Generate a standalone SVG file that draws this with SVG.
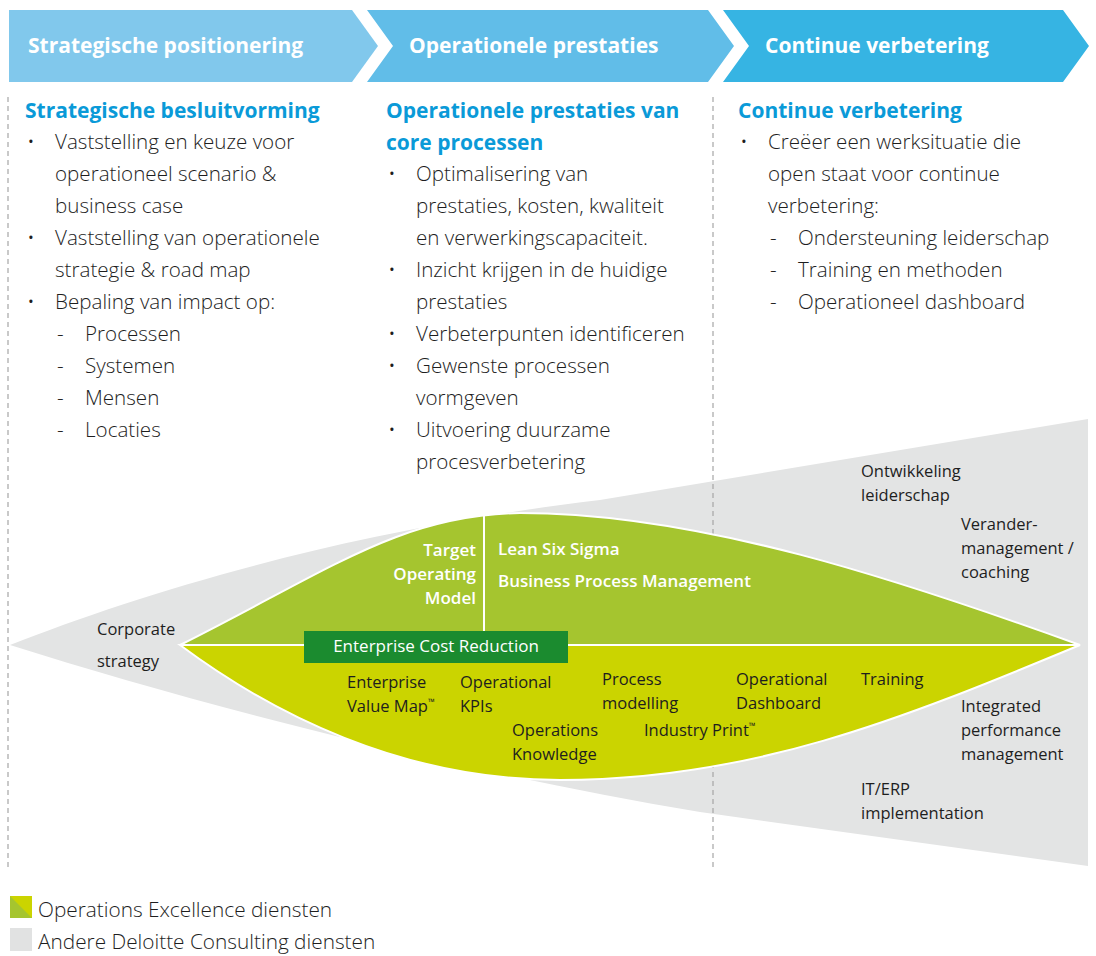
<svg xmlns="http://www.w3.org/2000/svg" width="1096" height="956" viewBox="0 0 1096 956">
<style>
.hd{font-family:"Open Sans","Noto Sans",sans-serif;font-weight:700;font-size:21px;fill:#ffffff}
.h2{font-family:"Open Sans","Noto Sans",sans-serif;font-weight:700;font-size:21px;fill:#0a9ad8}
.bt{font-family:"Open Sans","Noto Sans",sans-serif;font-weight:300;font-size:20.6px;fill:#1e1e1e}
.lb{font-family:"Open Sans","Noto Sans",sans-serif;font-weight:400;font-size:16.5px;fill:#1e1e1e}
.lw{font-family:"Open Sans","Noto Sans",sans-serif;font-weight:600;font-size:17px;fill:#ffffff}
.lg{font-family:"Open Sans","Noto Sans",sans-serif;font-weight:300;font-size:20.8px;fill:#1e1e1e}
.tm{font-size:9px}
.dash{stroke:#a6a6a6;stroke-width:1.2;stroke-dasharray:5 4;fill:none}
</style>
<rect width="1096" height="956" fill="#ffffff"/>
<g id="header">
<polygon points="9,10 352,10 378,46 352,82 9,82" fill="#81c8ec"/>
<polygon points="367,10 708,10 734,46 708,82 367,82 393,46" fill="#61bde8"/>
<polygon points="723,10 1063,10 1089,46 1063,82 723,82 749,46" fill="#36b4e3"/>
<text class="hd" x="28" y="53">Strategische positionering</text>
<text class="hd" x="409" y="53">Operationele prestaties</text>
<text class="hd" x="765" y="53">Continue verbetering</text>
</g>
<g id="funnel">
<path d="M10,645 C150,590 350,530 600,500 L1088,419 L1088,866 L700,812 C450,770 200,705 10,645 Z" fill="#e3e4e4"/>
</g>
<g id="dividers">
<line class="dash" x1="8" y1="97" x2="8" y2="868"/>
<line class="dash" x1="713" y1="97" x2="713" y2="868"/>
</g>
<g id="column1">
<text class="h2" x="25" y="118">Strategische besluitvorming</text>
<g class="bt">
<text x="27" y="149">•</text><text x="55" y="149">Vaststelling en keuze voor</text>
<text x="55" y="181">operationeel scenario &amp;</text>
<text x="55" y="213">business case</text>
<text x="27" y="245">•</text><text x="55" y="245">Vaststelling van operationele</text>
<text x="55" y="277">strategie &amp; road map</text>
<text x="27" y="309">•</text><text x="55" y="309">Bepaling van impact op:</text>
<text x="57" y="341">-</text><text x="85" y="341">Processen</text>
<text x="57" y="373">-</text><text x="85" y="373">Systemen</text>
<text x="57" y="405">-</text><text x="85" y="405">Mensen</text>
<text x="57" y="437">-</text><text x="85" y="437">Locaties</text>
</g>
</g>
<g id="column2">
<text class="h2" x="386" y="118">Operationele prestaties van</text>
<text class="h2" x="386" y="150">core processen</text>
<g class="bt">
<text x="388" y="181">•</text><text x="416" y="181">Optimalisering van</text>
<text x="416" y="213">prestaties, kosten, kwaliteit</text>
<text x="416" y="245">en verwerkingscapaciteit.</text>
<text x="388" y="277">•</text><text x="416" y="277">Inzicht krijgen in de huidige</text>
<text x="416" y="309">prestaties</text>
<text x="388" y="341">•</text><text x="416" y="341">Verbeterpunten identificeren</text>
<text x="388" y="373">•</text><text x="416" y="373">Gewenste processen</text>
<text x="416" y="405">vormgeven</text>
<text x="388" y="437">•</text><text x="416" y="437">Uitvoering duurzame</text>
<text x="416" y="469">procesverbetering</text>
</g>
</g>
<g id="column3">
<text class="h2" x="738" y="118">Continue verbetering</text>
<g class="bt">
<text x="740" y="149">•</text><text x="768" y="149">Creëer een werksituatie die</text>
<text x="768" y="181">open staat voor continue</text>
<text x="768" y="213">verbetering:</text>
<text x="770" y="245">-</text><text x="798" y="245">Ondersteuning leiderschap</text>
<text x="770" y="277">-</text><text x="798" y="277">Training en methoden</text>
<text x="770" y="309">-</text><text x="798" y="309">Operationeel dashboard</text>
</g>
</g>
<g id="upper-lens">
<path d="M180,645 C330,570 400,515 520,513 C700,513 900,580 1080,645 Z" fill="#a5c52f" stroke="#ffffff" stroke-width="2"/>
<line x1="484" y1="514" x2="484" y2="645" stroke="#ffffff" stroke-width="2"/>
<text class="lw" x="476" y="556" text-anchor="end">Target</text>
<text class="lw" x="476" y="580" text-anchor="end">Operating</text>
<text class="lw" x="476" y="604" text-anchor="end">Model</text>
<text class="lw" x="498" y="555">Lean Six Sigma</text>
<text class="lw" x="498" y="587">Business Process Management</text>
</g>
<g id="lower-lens">
<path d="M180,645 C270,712 400,780 560,780 C750,780 900,720 1080,645 Z" fill="#cbd400" stroke="#ffffff" stroke-width="2"/>
<text class="lb" x="347" y="688">Enterprise</text>
<text class="lb" x="347" y="712">Value Map<tspan class="tm" dy="-7">™</tspan></text>
<text class="lb" x="460" y="688">Operational</text>
<text class="lb" x="460" y="712">KPIs</text>
<text class="lb" x="512" y="736">Operations</text>
<text class="lb" x="512" y="760">Knowledge</text>
<text class="lb" x="602" y="685">Process</text>
<text class="lb" x="602" y="709">modelling</text>
<text class="lb" x="644" y="736">Industry Print<tspan class="tm" dy="-7">™</tspan></text>
<text class="lb" x="736" y="685">Operational</text>
<text class="lb" x="736" y="709">Dashboard</text>
<text class="lb" x="861" y="685">Training</text>
</g>
<g id="ecr">
<rect x="304" y="631" width="264" height="32" fill="#1b8b2f"/>
<text class="lw" x="436" y="652" text-anchor="middle" style="font-weight:400">Enterprise Cost Reduction</text>
</g>
<g id="other-services">
<text class="lb" x="97" y="635">Corporate</text>
<text class="lb" x="97" y="667">strategy</text>
<text class="lb" x="861" y="477">Ontwikkeling</text>
<text class="lb" x="861" y="501">leiderschap</text>
<text class="lb" x="961" y="530">Verander-</text>
<text class="lb" x="961" y="554">management /</text>
<text class="lb" x="961" y="578">coaching</text>
<text class="lb" x="961" y="712">Integrated</text>
<text class="lb" x="961" y="736">performance</text>
<text class="lb" x="961" y="760">management</text>
<text class="lb" x="861" y="795">IT/ERP</text>
<text class="lb" x="861" y="819">implementation</text>
</g>
<g id="legend">
<rect x="10" y="896" width="22" height="22" fill="#cbd400"/>
<polygon points="10,896 32,918 10,918" fill="#a5c52f"/>
<rect x="10" y="928" width="22" height="23" fill="#e1e2e2"/>
<text class="lg" x="38" y="917">Operations Excellence diensten</text>
<text class="lg" x="38" y="949">Andere Deloitte Consulting diensten</text>
</g>
</svg>
